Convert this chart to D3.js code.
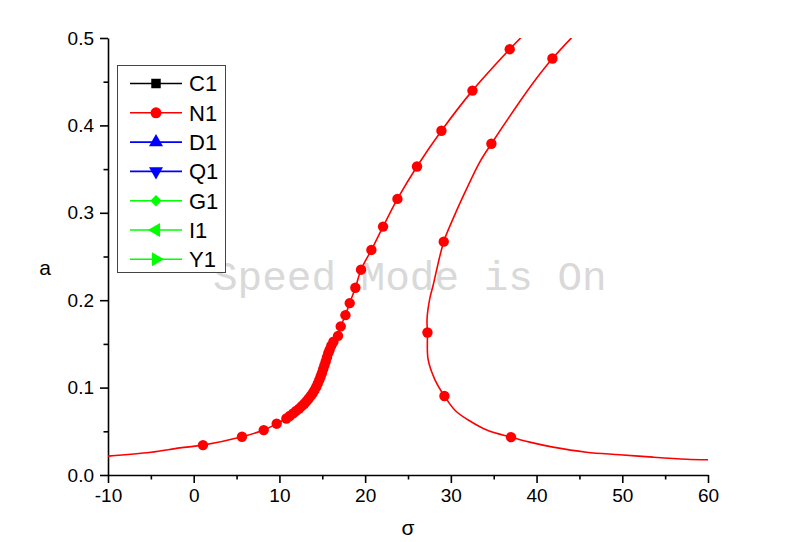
<!DOCTYPE html>
<html>
<head>
<meta charset="utf-8">
<script src="https://cdnjs.cloudflare.com/ajax/libs/d3/7.8.5/d3.min.js"></script>
<style>
  body { margin: 0; background: #fff; }
  svg { display: block; }
  .axis text { font-family: "Liberation Sans", Arial, sans-serif; font-size: 19px; fill: #000; }
  .axis path, .axis line { stroke: #000; stroke-width: 1.6px; }
</style>
</head>
<body>
<script>
// left (lower-frequency) branch, ordered by amplitude
var leftSigma = [-10, -5, -1.6, 1.08, 5.63, 8.17, 9.68, 10.81, 11.55, 12.37, 13.18, 13.88, 14.47, 14.93, 15.40, 15.81, 16.3, 16.84, 17.15, 17.70, 18.20, 18.86, 19.52, 20.73, 22.09, 23.77, 26.05, 28.90, 32.52, 36.87, 38.23];
var leftA = [0.0216, 0.026, 0.031, 0.0342, 0.0438, 0.0514, 0.0587, 0.0646, 0.0705, 0.0763, 0.0843, 0.0935, 0.1049, 0.1164, 0.1302, 0.1430, 0.1525, 0.1592, 0.170, 0.1829, 0.1967, 0.2142, 0.2349, 0.2575, 0.2842, 0.3159, 0.3530, 0.3939, 0.4398, 0.4872, 0.501];

// right branch, ordered by amplitude
var rightSigma = [60.0, 57.48, 53.59, 49.70, 45.82, 41.92, 39.20, 37.02, 34.19, 32.32, 30.57, 29.25, 28.12, 27.34, 27.27, 27.22, 27.53, 27.92, 29.17, 30.25, 31.82, 33.37, 34.73, 38.03, 39.98, 41.85, 44.07];
var rightA = [0.0174, 0.0181, 0.0204, 0.0232, 0.0261, 0.0319, 0.0376, 0.0433, 0.0515, 0.0612, 0.0732, 0.0904, 0.1095, 0.1325, 0.1631, 0.1783, 0.2013, 0.2165, 0.267, 0.293, 0.327, 0.358, 0.379, 0.427, 0.4536, 0.4765, 0.5002];

// symbols shown on the curves
var markSigma = [1.08, 5.63, 8.17, 9.68, 10.81, 11.2, 11.6, 11.95, 12.3, 12.6, 12.9, 13.15, 13.4, 13.65, 13.88, 14.08, 14.28, 14.47, 14.64, 14.8, 14.95, 15.1, 15.25, 15.4, 15.55, 15.7, 15.85, 16.05, 16.3, 16.84, 17.15, 17.70, 18.20, 18.86, 19.52, 20.73, 22.09, 23.77, 26.05, 28.90, 32.52, 36.87,
                 37.02, 29.25, 27.27, 29.17, 34.73, 41.85];
var markA = [0.0342, 0.0438, 0.0514, 0.0587, 0.0646, 0.0675, 0.0705, 0.0733, 0.0760, 0.0788, 0.0815, 0.0843, 0.0873, 0.0905, 0.0935, 0.0968, 0.1005, 0.1045, 0.1085, 0.1125, 0.1165, 0.121, 0.1255, 0.130, 0.1348, 0.1395, 0.1430, 0.1480, 0.1525, 0.1592, 0.170, 0.1829, 0.1967, 0.2142, 0.2349, 0.2575, 0.2842, 0.3159, 0.3530, 0.3939, 0.4398, 0.4872,
             0.0433, 0.0904, 0.1631, 0.267, 0.379, 0.4765];

var xTicks = [-10, 0, 10, 20, 30, 40, 50, 60];
var yTicks = [0.0, 0.1, 0.2, 0.3, 0.4, 0.5];

var legendNames = ["C1", "N1", "D1", "Q1", "G1", "I1", "Y1"];
var legendColors = ["#000000", "#ff0000", "#0000ff", "#0000ff", "#00ff00", "#00ff00", "#00ff00"];
var legendShapes = ["square", "circle", "up", "down", "diamond", "left", "right"];

var width = 800, height = 542;
var margin = { top: 38, right: 92, bottom: 67, left: 108 };

var svg = d3.select("body").append("svg")
    .attr("width", width)
    .attr("height", height);

svg.append("rect")
    .attr("width", width)
    .attr("height", height)
    .attr("fill", "#fff");

var xScale = d3.scaleLinear()
    .domain([-10, 60])
    .range([margin.left, width - margin.right]);

var yScale = d3.scaleLinear()
    .domain([0, 0.5])
    .range([height - margin.bottom, margin.top]);

// watermark sits under the data
svg.append("text")
    .attr("x", 213)
    .attr("y", 290)
    .attr("font-family", "'Liberation Mono', 'DejaVu Sans Mono', monospace")
    .attr("font-size", "41px")
    .attr("fill", "#d9d9d9")
    .text("Speed Mode is On");

// axes with minor ticks
var xMinor = d3.axisBottom(xScale).tickValues(d3.range(-5, 60, 10)).tickSize(4.5).tickFormat("");
var yMinor = d3.axisLeft(yScale).tickValues([0.05, 0.15, 0.25, 0.35, 0.45]).tickSize(4.5).tickFormat("");

svg.append("g").attr("class", "axis")
    .attr("transform", "translate(0," + yScale(0) + ")")
    .call(xMinor)
    .select(".domain").remove();

svg.append("g").attr("class", "axis")
    .attr("transform", "translate(" + xScale(-10) + ",0)")
    .call(yMinor)
    .select(".domain").remove();

// plain hyphen for negatives, like the original
var xAxis = d3.axisBottom(xScale).tickValues(xTicks).tickSize(8).tickSizeOuter(0).tickPadding(6).tickFormat(d => String(d));
var yAxis = d3.axisLeft(yScale).tickValues(yTicks).tickSize(8).tickSizeOuter(0).tickPadding(6).tickFormat(d => d.toFixed(1));

svg.append("g").attr("class", "axis")
    .attr("transform", "translate(0," + yScale(0) + ")")
    .call(xAxis);

svg.append("g").attr("class", "axis")
    .attr("transform", "translate(" + xScale(-10) + ",0)")
    .call(yAxis);

// axis titles
svg.append("text")
    .attr("x", 45)
    .attr("y", 275)
    .attr("text-anchor", "middle")
    .attr("font-family", "'Liberation Sans', Arial, sans-serif")
    .attr("font-size", "21px")
    .text("a");

svg.append("text")
    .attr("x", 408)
    .attr("y", 535)
    .attr("text-anchor", "middle")
    .attr("font-family", "'Liberation Sans', Arial, sans-serif")
    .attr("font-size", "21px")
    .text("σ");

// curves
var line = d3.line()
    .x(d => xScale(d[0]))
    .y(d => yScale(d[1]))
    .curve(d3.curveCatmullRom.alpha(0.5));

var plot = svg.append("g");

plot.append("clipPath").attr("id", "clip")
    .append("rect")
    .attr("x", xScale(-10)).attr("y", yScale(0.5))
    .attr("width", xScale(60) - xScale(-10))
    .attr("height", yScale(0) - yScale(0.5));

var curves = plot.append("g").attr("clip-path", "url(#clip)");

curves.append("path")
    .datum(leftSigma.map((s, i) => [s, leftA[i]]))
    .attr("d", line)
    .attr("fill", "none")
    .attr("stroke", "#ff0000")
    .attr("stroke-width", 1.6);

curves.append("path")
    .datum(rightSigma.map((s, i) => [s, rightA[i]]))
    .attr("d", line)
    .attr("fill", "none")
    .attr("stroke", "#ff0000")
    .attr("stroke-width", 1.6);

plot.selectAll("circle.mark")
    .data(markSigma.map((s, i) => [s, markA[i]]))
    .enter()
    .append("circle")
    .attr("class", "mark")
    .attr("cx", d => xScale(d[0]))
    .attr("cy", d => yScale(d[1]))
    .attr("r", 5.2)
    .attr("fill", "#ff0000");

// legend
var legend = svg.append("g").attr("id", "legend");

legend.append("rect")
    .attr("x", 117.5)
    .attr("y", 65.5)
    .attr("width", 108)
    .attr("height", 207)
    .attr("fill", "#fff")
    .attr("stroke", "#444")
    .attr("stroke-width", 1);

var symbolFor = {
  square: { type: d3.symbolSquare, rot: 0, size: 90 },
  circle: { type: d3.symbolCircle, rot: 0, size: 95 },
  up: { type: d3.symbolTriangle, rot: 0, size: 85 },
  down: { type: d3.symbolTriangle, rot: 180, size: 85 },
  diamond: { type: d3.symbolSquare, rot: 45, size: 65 },
  left: { type: d3.symbolTriangle, rot: -90, size: 85 },
  right: { type: d3.symbolTriangle, rot: 90, size: 85 }
};

var items = legend.selectAll("g.item")
    .data(legendNames)
    .enter()
    .append("g")
    .attr("class", "item")
    .attr("transform", (d, i) => "translate(0," + (83.5 + i * 29.3) + ")");

items.append("line")
    .attr("x1", 130).attr("x2", 182)
    .attr("stroke", (d, i) => legendColors[i])
    .attr("stroke-width", 1.6);

items.append("path")
    .attr("transform", (d, i) => "translate(156,0) rotate(" + symbolFor[legendShapes[i]].rot + ")")
    .attr("d", (d, i) => d3.symbol().type(symbolFor[legendShapes[i]].type).size(symbolFor[legendShapes[i]].size)())
    .attr("fill", (d, i) => legendColors[i]);

items.append("text")
    .attr("x", 189)
    .attr("dy", "0.36em")
    .attr("font-family", "'Liberation Sans', Arial, sans-serif")
    .attr("font-size", "22px")
    .text(d => d);
</script>
</body>
</html>
